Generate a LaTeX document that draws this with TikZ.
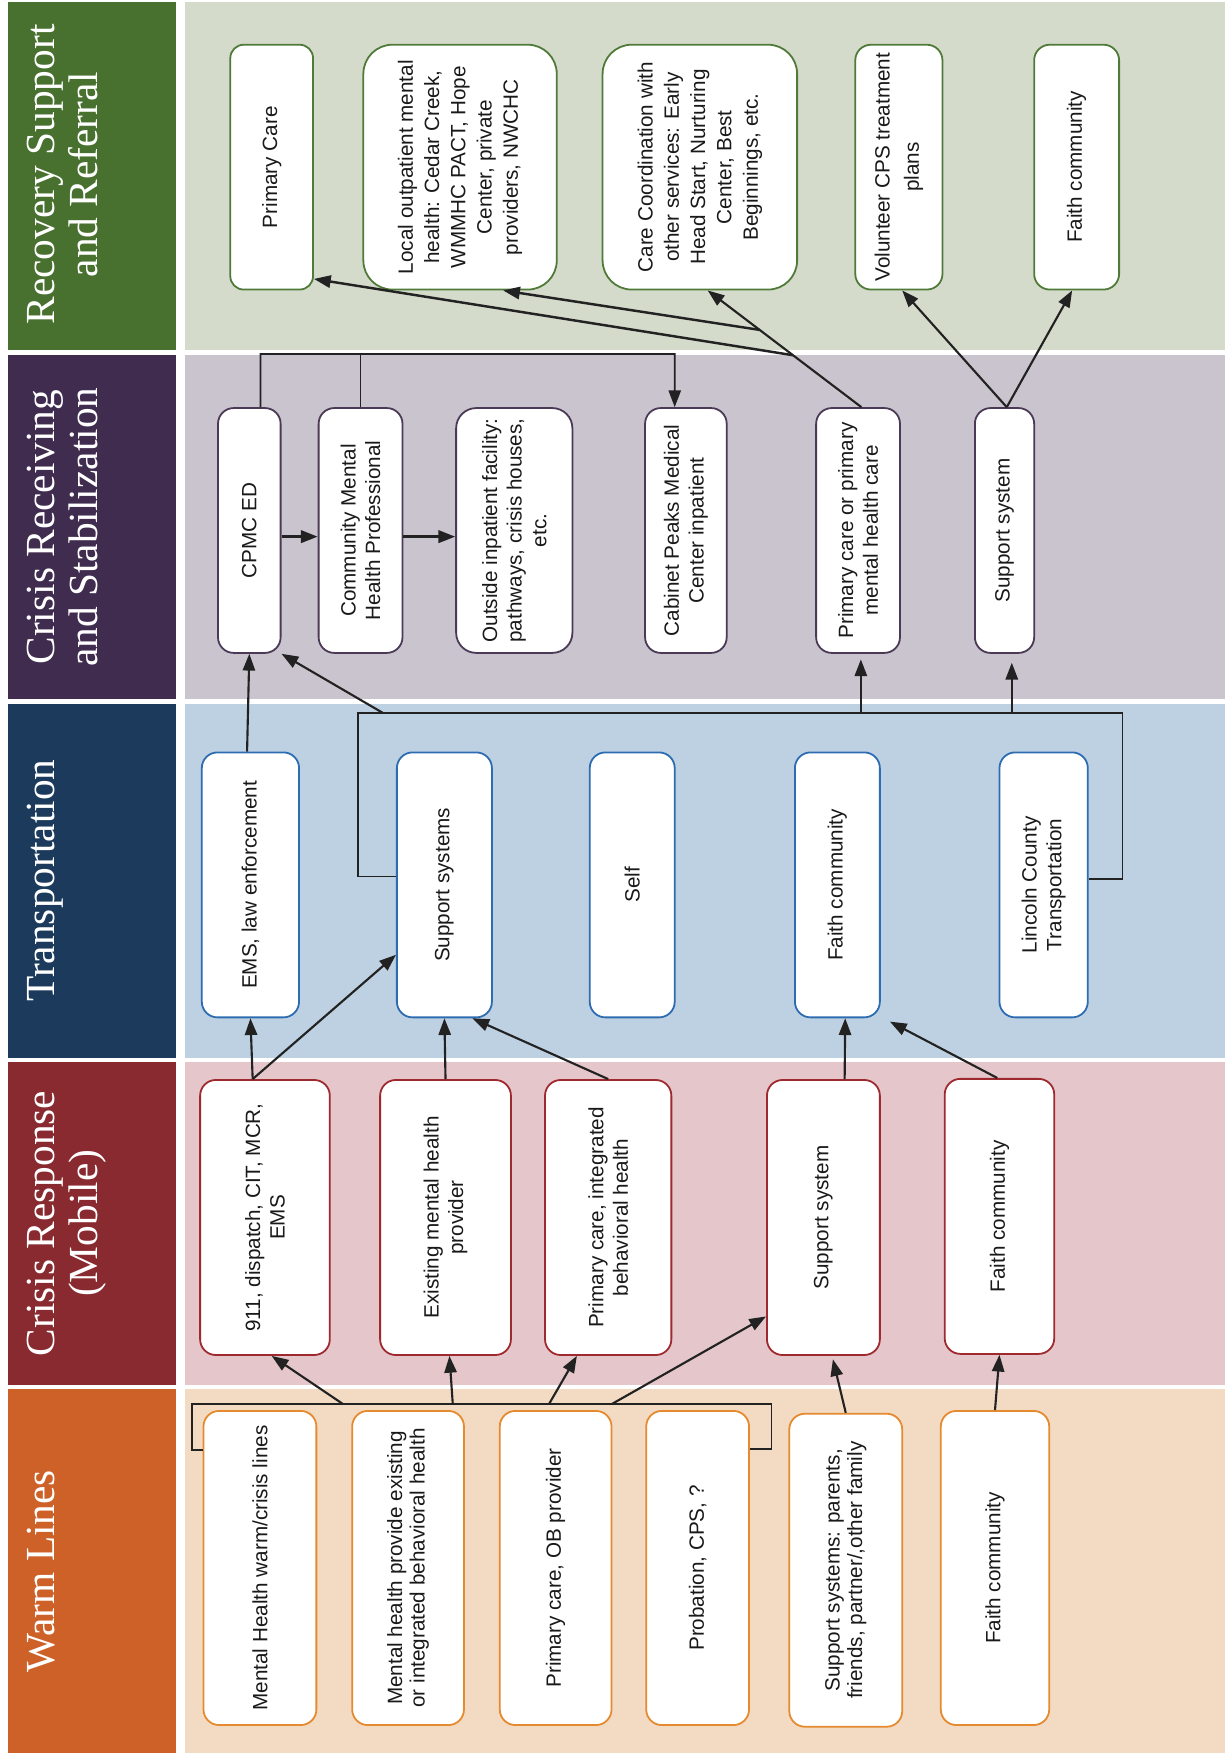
\documentclass[tikz,border=0pt]{standalone}
\usepackage{fontspec}
\setmainfont{Liberation Serif}
\newfontfamily\bodyfam{Liberation Sans}
\usetikzlibrary{arrows.meta,calc}
\definecolor{hdrRec}{HTML}{48702F}
\definecolor{bodyRec}{HTML}{D5DBCB}
\definecolor{hdrRecv}{HTML}{3F2C4F}
\definecolor{bodyRecv}{HTML}{CAC4CE}
\definecolor{hdrTr}{HTML}{1B3A5C}
\definecolor{bodyTr}{HTML}{BDD1E2}
\definecolor{hdrCr}{HTML}{882A2F}
\definecolor{bodyCr}{HTML}{E5C7CB}
\definecolor{hdrWm}{HTML}{CD6128}
\definecolor{bodyWm}{HTML}{F3DBC3}
\definecolor{lnRec}{HTML}{4F7A38}
\definecolor{lnRecv}{HTML}{4A3A55}
\definecolor{lnTr}{HTML}{2D6CB0}
\definecolor{lnCr}{HTML}{9E2A30}
\definecolor{lnWm}{HTML}{E58A2E}
\definecolor{arrc}{HTML}{222222}
\tikzset{
  hdr/.style={rotate=90, text=white, align=center, inner sep=0pt, anchor=north,
    font=\fontsize{37}{38.5}\selectfont},
  bx/.style={draw, fill=white, rotate=90, align=center, inner sep=2pt,
    font=\bodyfam\fontsize{18.5}{22}\selectfont, text=black!90,
    line width=1.6pt, rounded corners=14pt},
  warm/.style={bx, draw=lnWm},
  crs/.style={bx, draw=lnCr},
  trn/.style={bx, draw=lnTr},
  rcv/.style={bx, draw=lnRecv},
  rec/.style={bx, draw=lnRec},
  arr/.style={-{Triangle[length=15pt,width=11pt]}, line width=1.9pt, draw=arrc},
  plainln/.style={line width=1.5pt, draw=arrc},
}
\begin{document}
\begin{tikzpicture}[x=1pt,y=-1pt]
\useasboundingbox (0,0) rectangle (1098,1568);
\fill[white] (0,0) rectangle (1098,1568);
% column backgrounds
\fill[bodyRec]  (165.5,2)      rectangle (1095.5,313.5);
\fill[bodyRecv] (165.5,317.5)  rectangle (1095.5,625.5);
\fill[bodyTr]   (165.5,629.5)  rectangle (1095.5,946);
\fill[bodyCr]   (165.5,950)    rectangle (1095.5,1238.5);
\fill[bodyWm]   (165.5,1242.5) rectangle (1095.5,1568);
% header bands
\fill[hdrRec]  (7.5,2)      rectangle (157.5,313.5);
\fill[hdrRecv] (7.5,317.5)  rectangle (157.5,625.5);
\fill[hdrTr]   (7.5,629.5)  rectangle (157.5,946);
\fill[hdrCr]   (7.5,950)    rectangle (157.5,1238.5);
\fill[hdrWm]   (7.5,1242.5) rectangle (157.5,1568);
\node[hdr] (h1) at (24,156) {Recovery Support\\and Referral};
\node[hdr] (h2) at (24,471.5) {Crisis Receiving\\and Stabilization};
\node[hdr] (h3) at (24,787.75) {Transportation};
\node[hdr] (h4) at (24,1094.25) {Crisis Response\\(Mobile)};
\node[hdr] (h5) at (24,1405.25) {Warm Lines};

% Warm lines
\node[warm, minimum width=281pt, minimum height=101pt] (w1) at (232.5,1402.5) {Mental Health warm/crisis lines};
\node[warm, minimum width=281pt, minimum height=100pt, font=\bodyfam\fontsize{18.5}{20}\selectfont] (w2) at (365,1402.5) {Mental health provide existing\\or integrated behavioral health};
\node[warm, minimum width=281pt, minimum height=100pt] (w3) at (497,1402.5) {Primary care, OB provider};
\node[warm, minimum width=281pt, minimum height=92pt] (w4) at (624,1402.5) {Probation, CPS, ?};
\node[warm, minimum width=280pt, minimum height=101pt, font=\bodyfam\fontsize{18.5}{20}\selectfont] (w5) at (756.5,1404.5) {Support systems: parents,\\friends, partner/,other family};
\node[warm, minimum width=281pt, minimum height=97pt] (w6) at (890,1402.5) {Faith community};

% Crisis response
\node[crs, minimum width=246pt, minimum height=116pt] (c1) at (237,1089) {911, dispatch, CIT, MCR,\\EMS};
\node[crs, minimum width=246pt, minimum height=117pt] (c2) at (398.5,1089) {Existing mental health\\provider};
\node[crs, minimum width=246pt, minimum height=113pt] (c3) at (544,1089) {Primary care, integrated\\behavioral health};
\node[crs, minimum width=246pt, minimum height=101pt] (c4) at (736.5,1089) {Support system};
\node[crs, minimum width=246pt, minimum height=98pt] (c5) at (894,1088) {Faith community};

% Transportation
\node[trn, minimum width=237pt, minimum height=87pt] (t1) at (224,791.5) {EMS, law enforcement};
\node[trn, minimum width=237pt, minimum height=85pt] (t2) at (397.5,791.5) {Support systems};
\node[trn, minimum width=237pt, minimum height=76pt] (t3) at (565.5,791.5) {Self};
\node[trn, minimum width=237pt, minimum height=76pt] (t4) at (749,791.5) {Faith community};
\node[trn, minimum width=237pt, minimum height=79pt] (t5) at (933.5,791.5) {Lincoln County\\Transportation};

% Crisis receiving
\node[rcv, minimum width=219pt, minimum height=56pt] (r1) at (223,474.5) {CPMC ED};
\node[rcv, minimum width=219pt, minimum height=75pt] (r2) at (322.5,474.5) {Community Mental\\Health Professional};
\node[rcv, minimum width=219pt, minimum height=104pt, rounded corners=18pt] (r3) at (460,474.5) {Outside inpatient facility:\\pathways, crisis houses,\\etc.};
\node[rcv, minimum width=219pt, minimum height=73pt] (r4) at (613.5,474.5) {Cabinet Peaks Medical\\Center inpatient};
\node[rcv, minimum width=219pt, minimum height=75pt] (r5) at (767.5,474.5) {Primary care or primary\\mental health care};
\node[rcv, minimum width=219pt, minimum height=53pt] (r6) at (898.5,474.5) {Support system};

% Recovery
\node[rec, minimum width=219pt, minimum height=74pt, rounded corners=12pt] (v1) at (243,149.5) {Primary Care};
\node[rec, minimum width=219pt, minimum height=173pt, rounded corners=26pt, font=\bodyfam\fontsize{18.5}{23.5}\selectfont] (v2) at (411.5,149.5) {Local outpatient mental\\health: Cedar Creek,\\WMMHC PACT, Hope\\Center, private\\providers, NWCHC};
\node[rec, minimum width=219pt, minimum height=174pt, rounded corners=26pt, font=\bodyfam\fontsize{18.5}{23.5}\selectfont] (v3) at (626,149.5) {Care Coordination with\\other services: Early\\Head Start, Nurturing\\Center, Best\\Beginnings, etc.};
\node[rec, minimum width=219pt, minimum height=78pt, font=\bodyfam\fontsize{18.5}{26}\selectfont] (v4) at (804,149.5) {Volunteer CPS treatment\\plans};
\node[rec, minimum width=219pt, minimum height=76pt] (v5) at (963,149.5) {Faith community};

% ---- Warm lines -> Crisis response
\draw[plainln] ([yshift=105.5pt]w1.north) -| (171.5,1256) -| (690,1296) -- ([yshift=106.5pt]w4.south);
\coordinate (k1) at (307,1256);
\coordinate (k2) at (405,1256);
\coordinate (k3) at (491,1256);
\coordinate (k4) at (547,1256);
\draw[arr] (k1) -- ([xshift=6pt]c1.west);
\draw[arr] (k2) -- ([xshift=3.5pt]c2.west);
\draw[arr] (k3) -- ([xshift=-28pt]c3.west);
\draw[arr] (k4) -- ([yshift=-88.5pt]c4.north);
\draw[arr] (w5.east) -- ([xshift=8.5pt,yshift=-3pt]c4.west);
\draw[arr] (w6.east) -- (c5.west);

% ---- Crisis response -> Transportation
\draw[arr] ([xshift=-11pt]c1.east) -- (t1.west);
\draw[arr] ([xshift=-11pt]c1.east) -- ([yshift=-62.5pt]t2.north);
\draw[arr] (c2.east) -- (t2.west);
\draw[arr] (c3.east) -- ([xshift=25pt]t2.west);
\draw[arr] ([xshift=19pt]c4.east) -- ([xshift=7pt]t4.west);
\draw[arr] ([xshift=-2pt]c5.east) -- ([xshift=47pt,yshift=-3pt]t4.west);

% ---- Transportation -> Receiving
\draw[arr] ([xshift=-3pt]t1.east) -- (r1.west);
\draw[plainln] ([yshift=7.5pt]t2.north) -| (320,638) -| (1004,786) -- ([yshift=5.5pt]t5.south);
\coordinate (e1) at (343,638);
\coordinate (e2) at (770,638);
\coordinate (e3) at (905,638);
\draw[arr] (e1) -- (r1.south west);
\draw[arr, shorten >=5pt] (e2) -- ([xshift=2.5pt]r5.west);
\draw[arr, shorten >=8pt] (e3) -- ([xshift=6.5pt]r6.west);

% ---- Receiving internal
\draw[arr, line width=2.4pt] ([yshift=-5.5pt]r1.south) -- ([yshift=-5.5pt]r2.north);
\draw[arr, line width=2.4pt] ([yshift=-5.5pt]r2.south) -- ([yshift=-5.5pt]r3.north);
\coordinate (tb) at (603.6,316.6);
\draw[arr, line width=1.5pt] ([xshift=10pt]r1.east) |- (tb) -- ([xshift=-10pt]r4.east);
\draw[plainln] (r2.east) -- (r2.east |- tb);

% ---- Receiving -> Recovery
\draw[arr] ([xshift=3pt]r5.east) -- ([xshift=7pt]v3.west);
\coordinate (j1) at ($([xshift=3pt]r5.east)!0.445!([xshift=7pt]v3.west)$);
\coordinate (j2) at ($([xshift=3pt]r5.east)!0.662!([xshift=7pt]v3.west)$);
\draw[arr, line width=2.2pt] (j1) -- ([yshift=-100pt]v1.south);
\draw[arr, line width=2.2pt] (j2) -- ([xshift=38.5pt]v2.west);
\draw[arr] ([xshift=2pt]r6.east) -- ([xshift=3pt]v4.west);
\draw[arr] ([xshift=2pt]r6.east) -- ([xshift=-4pt]v5.west);
\end{tikzpicture}
\end{document}
